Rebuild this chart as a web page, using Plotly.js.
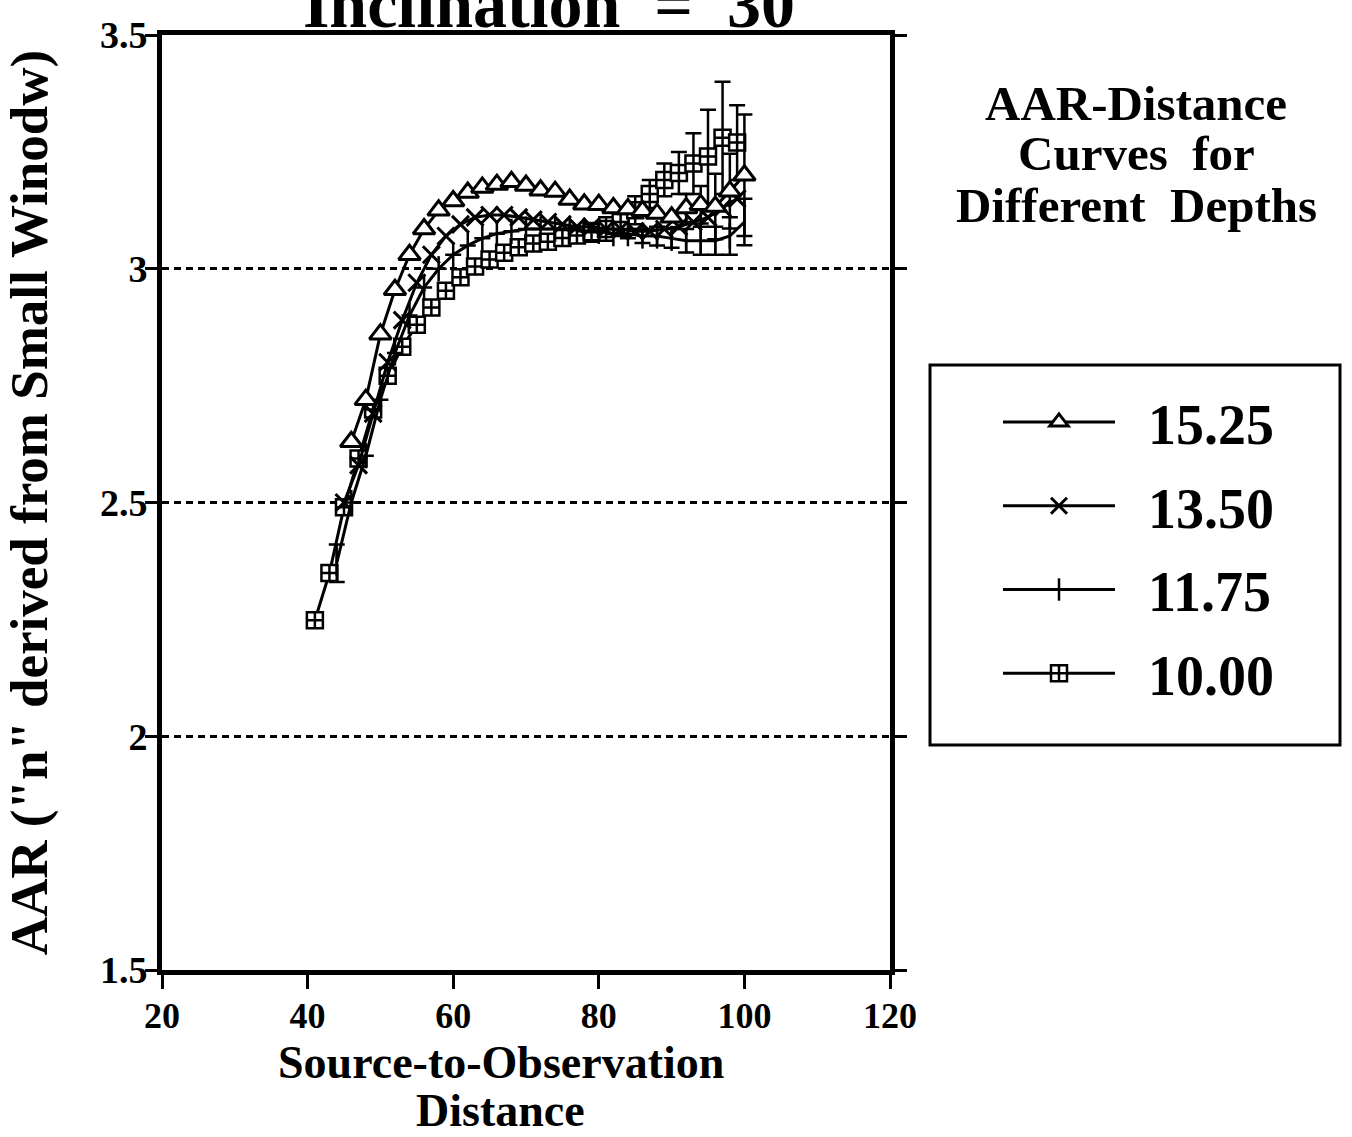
<!DOCTYPE html>
<html>
<head>
<meta charset="utf-8">
<script src="https://cdn.plot.ly/plotly-3.0.1.min.js"></script>
<style>
html,body{margin:0;padding:0;background:#fff;}
#chart{width:1352px;height:1137px;}
</style>
</head>
<body>
<div id="chart"></div>
<script>
// ---- data ----
const depthLabels = ['15.25', '13.50', '11.75', '10.00'];

const dist1525 = [46,48,50,52,54,56,58,60,62,64,66,68,70,72,74,76,78,80,82,84,86,88,90,92,94,96,98,100];
const aar1525  = [2.63,2.72,2.86,2.955,3.03,3.085,3.125,3.145,3.163,3.174,3.18,3.186,3.178,3.168,3.165,3.148,3.138,3.137,3.13,3.128,3.124,3.118,3.11,3.13,3.137,3.133,3.166,3.20];
const err1525  = [0,0,0,0,0,0,0,0,0,0,0,0,0,0,0,0,0,0,0,0,0,0,0,0.03,0.04,0.07,0.08,0.13];

const dist1350 = [45,47,49,51,53,55,57,59,61,63,65,67,69,71,73,75,77,79,81,83,85,87,89,91,93,95,97,99];
const aar1350  = [2.50,2.58,2.69,2.80,2.89,2.97,3.03,3.07,3.095,3.11,3.115,3.115,3.11,3.105,3.10,3.095,3.09,3.09,3.085,3.085,3.08,3.08,3.085,3.09,3.10,3.11,3.13,3.15];

const dist1175 = [44,46,48,50,52,54,56,58,60,62,64,66,68,70,72,74,76,78,80,82,84,86,88,90,92,94,96,98,100];
const aar1175  = [2.37,2.50,2.60,2.72,2.82,2.90,2.96,3.00,3.03,3.05,3.065,3.075,3.08,3.085,3.085,3.085,3.085,3.08,3.08,3.075,3.075,3.07,3.07,3.065,3.06,3.06,3.06,3.07,3.10];
const err1175  = [0.04,0,0,0,0,0,0,0,0,0,0,0,0,0,0,0,0,0,0,0,0.01,0.015,0.02,0.02,0.025,0.03,0.03,0.04,0.05];

const dist1000 = [41,43,45,47,49,51,53,55,57,59,61,63,65,67,69,71,73,75,77,79,81,83,85,87,89,91,93,95,97,99];
const aar1000  = [2.248,2.349,2.49,2.594,2.699,2.771,2.833,2.88,2.917,2.953,2.982,3.005,3.02,3.034,3.046,3.054,3.058,3.066,3.071,3.078,3.085,3.10,3.125,3.16,3.19,3.205,3.225,3.24,3.28,3.27];
const err1000  = [0,0,0,0,0,0,0,0,0,0,0,0,0,0,0,0,0,0,0,0.02,0.025,0.03,0.03,0.03,0.035,0.045,0.065,0.10,0.12,0.08];

const xTickVals = [20,40,60,80,100,120];
const yTickVals = [1.5,2,2.5,3,3.5];
const yTickText = ['1.5','2','2.5','3','3.5'];

const chartTitle = 'Inclination\u00A0\u00A0=\u00A0\u00A030';
const xTitleLines = ['Source-to-Observation', 'Distance'];
const yTitle = 'AAR ("n" derived from Small Winodw)';
const noteLines = ['AAR-Distance', 'Curves\u00A0\u00A0for', 'Different\u00A0\u00A0Depths'];

// ---- styling / geometry ----
const SERIF = 'Liberation Serif, Times New Roman, Times, serif';
const INK = '#000';
const W = 1352, H = 1137;
const M = {l:162, r:462, t:35, b:167};
const PW = W - M.l - M.r, PH = H - M.t - M.b;
const px2x = (px) => (px - M.l) / PW;      // page pixel -> paper x
const px2y = (py) => 1 - (py - M.t) / PH;  // page pixel -> paper y
const pad = '\u00A0\u00A0';

const errStyle = (arr) => ({type:'data', array:arr, visible:true, color:INK, thickness:2.5, width:8});

const traces = [
  {x:dist1000, y:aar1000, name:pad + depthLabels[3], legendgroup:'g4', legendrank:4, mode:'lines+markers',
   line:{color:INK, width:3},
   marker:{symbol:'square-cross', size:16, color:'#fff', line:{color:INK, width:2.5}},
   error_y:errStyle(err1000)},
  {x:dist1175, y:aar1175, name:pad + depthLabels[2], legendgroup:'g3', legendrank:3, mode:'lines+markers',
   line:{color:INK, width:3},
   marker:{symbol:'line-ns-open', size:18, color:INK, line:{color:INK, width:2.5}},
   error_y:errStyle(err1175)},
  {x:dist1350, y:aar1350, name:pad + depthLabels[1], legendgroup:'g2', legendrank:2, mode:'lines+markers',
   line:{color:INK, width:3},
   marker:{symbol:'x-thin-open', size:17, color:INK, line:{color:INK, width:3}}},
  {x:dist1525, y:aar1525, name:pad + depthLabels[0], legendgroup:'g1', legendrank:1, mode:'lines+markers',
   line:{color:INK, width:3},
   marker:{symbol:'triangle-up', size:19, color:'#fff', line:{color:INK, width:3}},
   error_y:errStyle(err1525)}
];

const bold = (size) => ({family:SERIF, size:size, color:INK, weight:'bold'});

const annotations = [
  {text:xTitleLines[0], xref:'paper', yref:'paper', x:px2x(501), y:px2y(1062), xanchor:'center', yanchor:'middle', showarrow:false, font:bold(46)},
  {text:xTitleLines[1], xref:'paper', yref:'paper', x:px2x(500), y:px2y(1110), xanchor:'center', yanchor:'middle', showarrow:false, font:bold(46)},
  {text:noteLines[0], xref:'paper', yref:'paper', x:px2x(1136), y:px2y(103), xanchor:'center', yanchor:'middle', showarrow:false, font:bold(49)},
  {text:noteLines[1], xref:'paper', yref:'paper', x:px2x(1136), y:px2y(153), xanchor:'center', yanchor:'middle', showarrow:false, font:bold(49)},
  {text:noteLines[2], xref:'paper', yref:'paper', x:px2x(1136), y:px2y(205), xanchor:'center', yanchor:'middle', showarrow:false, font:bold(49)}
];

const layout = {
  width:W, height:H,
  paper_bgcolor:'#fff', plot_bgcolor:'#fff',
  margin:M,
  showlegend:true,
  title:{text:chartTitle, x:549/W, xanchor:'center', y:0.997, yanchor:'middle', yref:'container', font:bold(68)},
  font:{family:SERIF, color:INK},
  xaxis:{range:[20,120], tickvals:xTickVals, ticks:'outside', ticklen:14, tickwidth:3, tickcolor:INK,
         showline:true, linewidth:5, linecolor:INK, mirror:true, showgrid:false, zeroline:false,
         ticklabelstandoff:-4, tickfont:bold(36)},
  yaxis:{range:[1.5,3.5], tickvals:yTickVals, ticktext:yTickText, ticks:'outside', ticklen:12, tickwidth:3, tickcolor:INK,
         showline:true, linewidth:5, linecolor:INK, mirror:'ticks', zeroline:false,
         showgrid:true, gridcolor:INK, gridwidth:3, griddash:'7px,5px',
         ticklabelstandoff:-10, tickfont:bold(38),
         title:{text:yTitle, standoff:50, font:bold(53)}},
  legend:{x:px2x(998), xanchor:'left', y:px2y(379), yanchor:'top', traceorder:'grouped', tracegroupgap:8,
          itemwidth:112, bgcolor:'rgba(0,0,0,0)', borderwidth:0, font:bold(56)},
  shapes:[
    {type:'rect', xref:'paper', yref:'paper', x0:px2x(930), x1:px2x(1340), y0:px2y(745), y1:px2y(365),
     line:{color:INK, width:3}, fillcolor:'rgba(0,0,0,0)'}
  ],
  annotations:annotations
};

Plotly.newPlot('chart', traces, layout, {displayModeBar:false, staticPlot:true});
</script>
</body>
</html>
